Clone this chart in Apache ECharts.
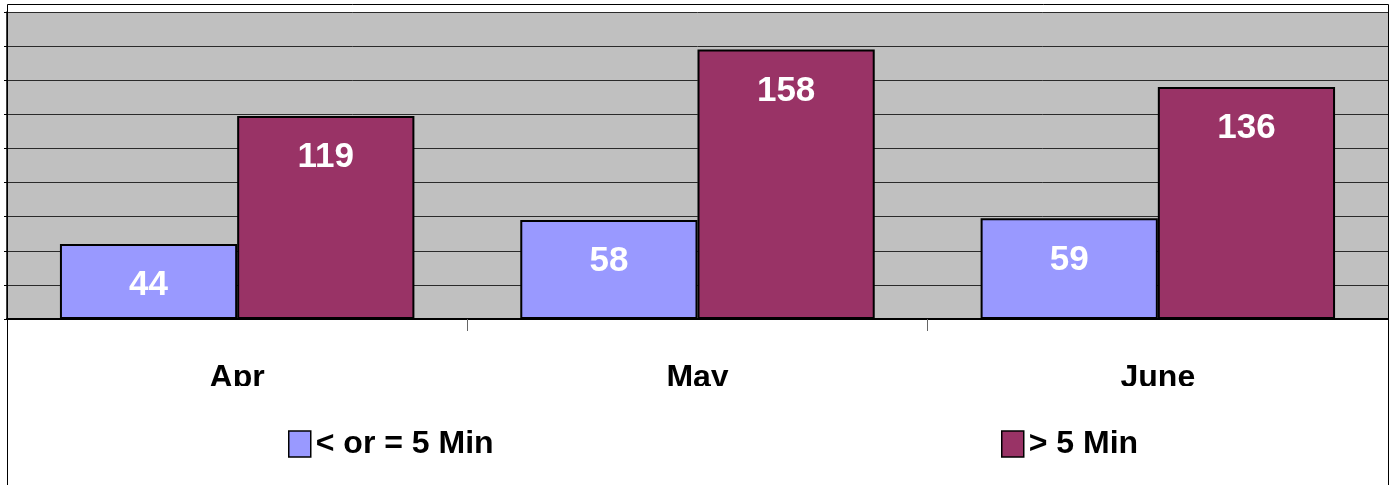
<!DOCTYPE html>
<html>
<head>
<meta charset="utf-8">
<script src="https://cdn.jsdelivr.net/npm/echarts@6/dist/echarts.min.js"></script>
<style>
html,body{margin:0;padding:0;background:#fff;}
#chart{width:1392px;height:485px;}
</style>
</head>
<body>
<div id="chart"></div>
<script>
var categories = ['Apr', 'May', 'June'];
var seriesNames = ['< or = 5 Min', '> 5 Min'];
var upTo5 = [44, 58, 59];
var over5 = [119, 158, 136];

var chart = echarts.init(document.getElementById('chart'), null, {renderer: 'canvas'});

var labelStyle = {
  show: true,
  position: 'insideTop',
  distance: 24,
  color: '#ffffff',
  fontFamily: "'Liberation Sans', Arial, sans-serif",
  fontWeight: 'bold',
  fontSize: 35
};

var legendText = {
  color: '#000',
  fontFamily: "'Liberation Sans', Arial, sans-serif",
  fontWeight: 'bold',
  fontSize: 32
};

chart.setOption({
  animation: false,
  backgroundColor: '#ffffff',
  grid: {
    left: 7, right: 4, top: 12, bottom: 166,
    show: true, backgroundColor: '#C0C0C0', borderWidth: 0,
    outerBoundsMode: 'none'
  },
  legend: [
    {
      data: [seriesNames[0]], left: 288, top: 428, padding: 0,
      itemWidth: 22, itemHeight: 26, icon: 'rect', itemGap: 0,
      itemStyle: {borderColor: '#000', borderWidth: 1.5},
      textStyle: legendText
    },
    {
      data: [seriesNames[1]], left: 1001, top: 428, padding: 0,
      itemWidth: 22, itemHeight: 26, icon: 'rect', itemGap: 0,
      itemStyle: {borderColor: '#000', borderWidth: 1.5},
      textStyle: legendText
    }
  ],
  xAxis: {
    type: 'category',
    data: categories,
    axisLine: {show: true, lineStyle: {color: '#000', width: 2}},
    axisTick: {show: true, length: 12, lineStyle: {color: '#666', width: 1}},
    axisLabel: {
      margin: 43, color: '#000', fontSize: 32, fontWeight: 'bold',
      fontFamily: "'Liberation Sans', Arial, sans-serif"
    },
    splitLine: {show: false}
  },
  yAxis: {
    type: 'value', min: 0, max: 180, interval: 20,
    axisLine: {show: true, lineStyle: {color: '#000', width: 1.5}},
    axisTick: {show: true, inside: false, length: 3, lineStyle: {color: '#000'}},
    axisLabel: {show: false},
    splitLine: {show: true, lineStyle: {color: '#2a2a2a', width: 1}}
  },
  series: [
    {
      name: seriesNames[0], type: 'bar', data: upTo5,
      barGap: '0%', barCategoryGap: '23%',
      itemStyle: {color: '#9999FF', borderColor: '#000', borderWidth: 2},
      label: labelStyle
    },
    {
      name: seriesNames[1], type: 'bar', data: over5,
      barGap: '0%', barCategoryGap: '23%',
      itemStyle: {color: '#993366', borderColor: '#000', borderWidth: 2},
      label: labelStyle
    }
  ],
  graphic: [
    {
      type: 'rect', z: 100, silent: true,
      shape: {x: 8, y: 386, width: 1379, height: 26},
      style: {fill: '#ffffff'}
    },
    {
      type: 'rect', z: 101, silent: true,
      shape: {x: 7.5, y: 4.5, width: 1381, height: 500},
      style: {fill: 'none', stroke: '#000', lineWidth: 1}
    }
  ]
});
</script>
</body>
</html>
